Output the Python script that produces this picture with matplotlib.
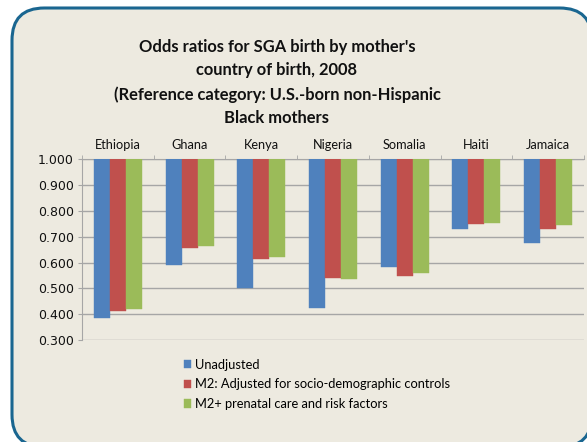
import numpy as np
import matplotlib.pyplot as plt
from matplotlib.patches import FancyBboxPatch
from matplotlib.ticker import FixedLocator

plt.rcParams['font.family'] = ['Lato', 'DejaVu Sans']

paises = ["Ethiopia", "Ghana", "Kenya", "Nigeria", "Somalia", "Haiti", "Jamaica"]
unadjusted = [0.386, 0.591, 0.500, 0.424, 0.583, 0.731, 0.676]
m2_socio = [0.412, 0.657, 0.612, 0.539, 0.547, 0.748, 0.731]
m2_prenatal = [0.421, 0.665, 0.621, 0.538, 0.559, 0.753, 0.744]

series = ["Unadjusted",
          "M2: Adjusted for socio-demographic controls",
          "M2+ prenatal care and risk factors"]
cores = ["#4F81BD", "#C0504D", "#9BBB59"]
fundo = "#EDEAE0"

W, H = 587, 442
fig = plt.figure(figsize=(W / 100, H / 100), dpi=100)
fig.patch.set_facecolor("white")

# moldura arredondada
caixa = FancyBboxPatch((12 / W, (H - 447) / H), (592 - 12) / W, (447 - 8) / H,
                       boxstyle="round,pad=0,rounding_size=0.055",
                       transform=fig.transFigure, facecolor=fundo,
                       edgecolor="#1A6690", linewidth=2.2, mutation_aspect=W / H,
                       clip_on=False, zorder=-5)
fig.patches.append(caixa)

titulo = ("Odds ratios for SGA birth by mother's\ncountry of birth, 2008\n"
          "(Reference category: U.S.-born non-Hispanic\nBlack mothers")
fig.text(277 / W, 1 - 39 / H, titulo, ha="center", va="top", fontsize=11.9,
         fontweight="bold", linespacing=1.57, color="#111111")

ax = fig.add_axes([82 / W, 1 - 340 / H, (584 - 82) / W, (340 - 159.3) / H])
ax.set_facecolor("none")

x = np.arange(len(paises))
largura = 0.223
for i, (vals, nome, cor) in enumerate(zip([unadjusted, m2_socio, m2_prenatal], series, cores)):
    vals = np.array(vals)
    ax.bar(x + (i - 1) * largura, 1 - vals, bottom=vals, width=largura,
           color=cor, label=nome, zorder=3, edgecolor=cor, linewidth=0.3)

ax.set_ylim(0.3, 1.0)
ax.set_xlim(-0.5, len(paises) - 0.5)
ax.set_yticks(np.arange(0.3, 1.001, 0.1))
ax.set_yticklabels([f"{v:.3f}" for v in np.arange(0.3, 1.001, 0.1)],
                   fontsize=9, family="DejaVu Sans", color="#111111")
ax.yaxis.grid(True, color="#A6A6A6", linewidth=1, zorder=0)

ax.xaxis.tick_top()
ax.set_xticks(x)
ax.set_xticklabels(paises, fontsize=9.2, color="#111111")
ax.tick_params(axis="x", which="major", length=0, pad=6)
ax.xaxis.set_minor_locator(FixedLocator(np.arange(-0.5, len(paises), 1)))
ax.tick_params(axis="x", which="minor", top=True, length=3, color="#A6A6A6")
ax.tick_params(axis="y", length=3, color="#A6A6A6", pad=3)

for lado in ["right", "bottom"]:
    ax.spines[lado].set_visible(False)
ax.spines["left"].set_color("#A6A6A6")
ax.spines["top"].set_color("#A6A6A6")

hs, ls = ax.get_legend_handles_labels()
fig.legend(hs, ls, loc="upper left", bbox_to_anchor=(172 / W, 1 - 347 / H),
           frameon=False, fontsize=9.3, handlelength=0.6, handleheight=0.6,
           handletextpad=0.3, labelspacing=0.6)

fig.savefig("out.png", dpi=100, facecolor="white")
